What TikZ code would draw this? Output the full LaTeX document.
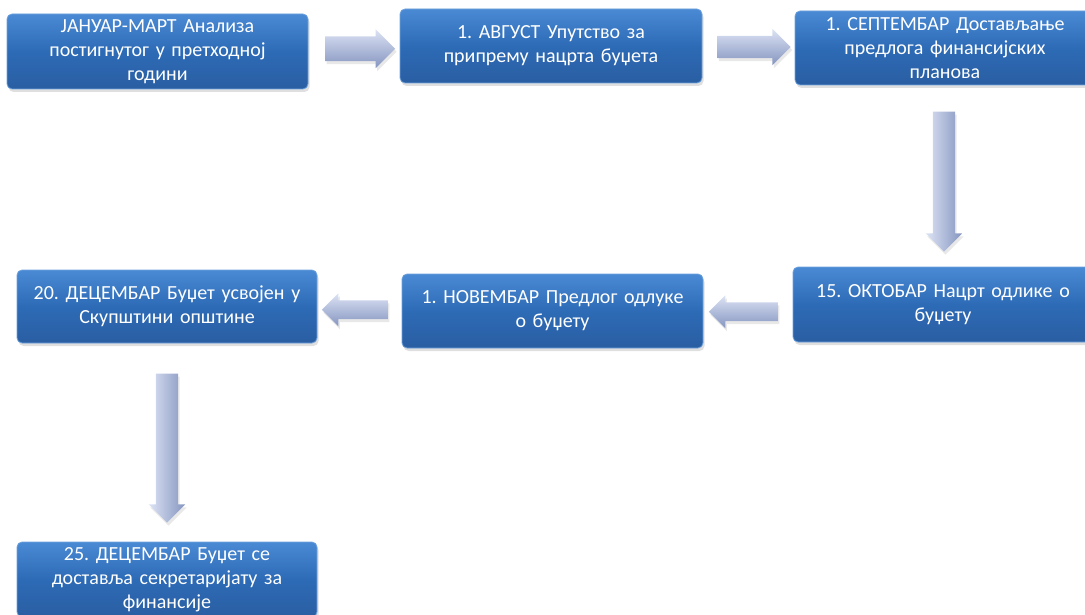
\documentclass[tikz,border=0pt]{standalone}
\usepackage{fontspec}
\setmainfont{Carlito}
\usetikzlibrary{shapes.arrows,shadows,calc}
\definecolor{boxtop}{HTML}{4A89D4}
\definecolor{boxmid}{HTML}{2D6BB6}
\definecolor{boxbot}{HTML}{2A5EA2}
\definecolor{boxline}{HTML}{6FA2DC}
\definecolor{arrlight}{HTML}{DCE3F4}
\definecolor{arrdark}{HTML}{8595C0}
\begin{document}
\frenchspacing
\begin{tikzpicture}[x=1pt,y=-1pt,
  box/.style={rounded corners=5pt, minimum width=300pt, minimum height=75pt,
    text width=296pt, align=center, inner sep=0pt, text=white,
    font=\fontsize{20}{24}\selectfont,
    top color=boxtop, bottom color=boxbot, middle color=boxmid,
    draw=boxline, line width=0.8pt,
    drop shadow={opacity=0.25, shadow xshift=1.5pt, shadow yshift=-3pt}},
  blockarrow/.style={single arrow, inner sep=11pt, minimum width=36pt,
    single arrow head extend=7pt, draw=none,
    drop shadow={opacity=0.18, shadow xshift=1.5pt, shadow yshift=-3pt}},
  harrow/.style={blockarrow, top color=arrlight, bottom color=arrdark},
  varrow/.style={blockarrow, left color=arrlight, right color=arrdark}
]
\useasboundingbox (0,0) rectangle (1085,615);
\clip (0,0) rectangle (1085,615);

\node[box, minimum width=301pt] (b1) at (157.5,51.5) {ЈАНУАР-МАРТ Анализа\\постигнутог у претходној\\години};
\node[box, minimum width=302pt, minimum height=74pt] (b2) at (551,46) {1. АВГУСТ Упутство за\\припрему нацрта буџета};
\node[box, minimum height=74pt] (b3) at (945,48) {1. СЕПТЕМБАР Достављање\\предлога финансијских\\планова};
\node[box] (b4) at (943,304.5) {15. ОКТОБАР Нацрт одлике о\\буџету};
\node[box, minimum width=301pt, minimum height=74pt] (b5) at (552.5,311) {1. НОВЕМБАР Предлог одлуке\\о буџету};
\node[box, minimum height=73pt] (b6) at (167,306.5) {20. ДЕЦЕМБАР Буџет усвојен у\\Скупштини општине};
\node[box] (b7) at (167,579.5) {25. ДЕЦЕМБАР Буџет се\\доставља секретаријату за\\финансије};

\node[harrow, minimum height=70pt, inner sep=12pt, minimum width=39pt] (a1) at ($(b1.east)!0.5!(b2.west)$) {};
\node[harrow, minimum height=73pt] (a2) at ($(b2.east)!0.5!(b3.west)$) {};
\node[varrow, minimum height=140pt, shape border rotate=270] (a3) at ($(b3.south)!0.5!(b4.north)$) {};
\node[harrow, minimum height=69pt, inner sep=9pt, minimum width=33pt, shape border rotate=180] (a4) at ($(b4.west)!0.5!(b5.east)+(0,4)$) {};
\node[harrow, minimum height=66pt, inner sep=9pt, minimum width=33pt, shape border rotate=180] (a5) at ($(b5.west)!0.5!(b6.east)+(0,1)$) {};
\node[varrow, minimum height=149pt, shape border rotate=270] (a6) at ($(b6.south)!0.5!(b7.north)$) {};
\end{tikzpicture}
\end{document}
